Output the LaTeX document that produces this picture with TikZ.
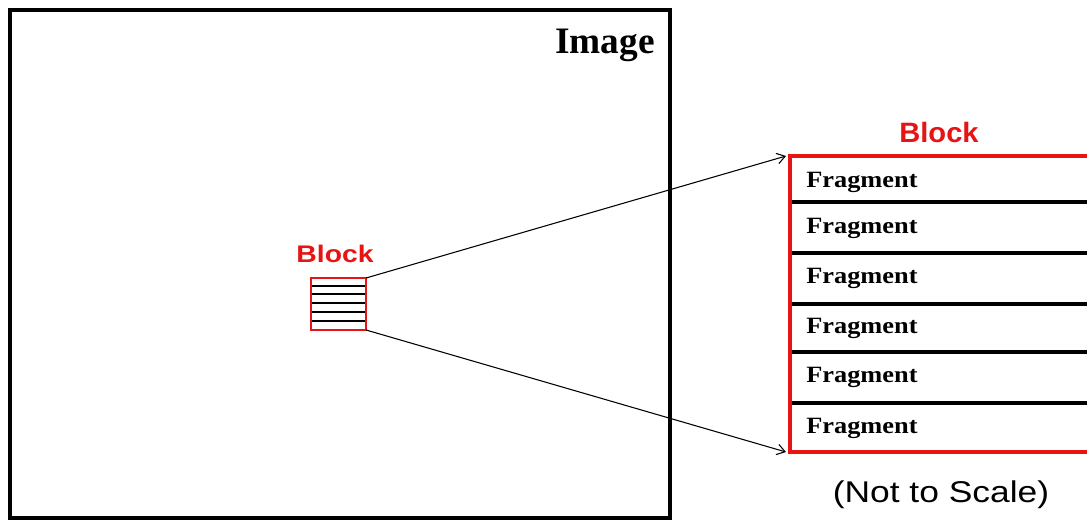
\documentclass[tikz,border=0pt]{standalone}
\usepackage{fontspec}
\usepackage{graphicx}
\setmainfont{Liberation Serif}
\newfontfamily\arialfont{Liberation Sans}
\usetikzlibrary{arrows.meta}
\definecolor{blockred}{RGB}{230,20,20}
\newcommand{\hstretch}[2]{\scalebox{#1}[1]{#2}}
\tikzset{
  px/.style={x=0.75pt,y=-0.75pt},
  frame/.style={draw=black,line width=3pt},
  redbox/.style={draw=blockred,line width=3pt},
  smallred/.style={draw=blockred,line width=1.3pt},
  divider/.style={draw=black,line width=2.6pt},
  thindiv/.style={draw=black,line width=1.4pt},
  fragtext/.style={font=\bfseries\fontsize{17.5}{17.5}\selectfont,anchor=west,inner sep=0pt},
  redlabel/.style={text=blockred,inner sep=0pt,anchor=base},
  conn/.style={draw=black,line width=0.8pt,-{Straight Barb[length=6pt,width=8pt]}},
}
\begin{document}
\begin{tikzpicture}[px]
\useasboundingbox (0,0) rectangle (1087,521);
\clip (0,0) rectangle (1087,521);
% image frame
\draw[frame] (10,10) rectangle (670,518);
\node[font=\bfseries\fontsize{28}{28}\selectfont,anchor=base east,inner sep=0pt] (imglabel) at (655,53) {Image};
% small block
\coordinate (sbnw) at (311,278);
\coordinate (sbse) at (366,330);
\foreach \y in {286,294,303,312,321}{
  \draw[thindiv] (311,\y) -- (366,\y);
}
\draw[smallred] (sbnw) rectangle (sbse);
\node[redlabel,font=\arialfont\bfseries\fontsize{18}{18}\selectfont] (sblabel) at (335,262) {\hstretch{1.18}{Block}};
% big block
\coordinate (bbnw) at (790,156);
\coordinate (bbsw) at (790,452);
\foreach \y in {202,253,304,352,403}{
  \draw[divider] (790,\y) -- (1095,\y);
}
\draw[redbox] (1095,156) -- (bbnw) -- (bbsw) -- (1095,452);
\node[redlabel,font=\arialfont\bfseries\fontsize{21}{21}\selectfont] (bblabel) at (939,142) {\hstretch{1.04}{Block}};
\node[fragtext] (f1) at (806,182) {\hstretch{1.13}{Fragment}};
\node[fragtext] (f2) at (806,228) {\hstretch{1.13}{Fragment}};
\node[fragtext] (f3) at (806,278) {\hstretch{1.13}{Fragment}};
\node[fragtext] (f4) at (806,328) {\hstretch{1.13}{Fragment}};
\node[fragtext] (f5) at (806,377) {\hstretch{1.13}{Fragment}};
\node[fragtext] (f6) at (806,428) {\hstretch{1.13}{Fragment}};
% connectors
\coordinate (sbne) at (366,278);
\draw[conn] (sbne) -- ([xshift=-3]bbnw);
\draw[conn] (sbse) -- ([xshift=-3]bbsw);
\node[font=\arialfont\fontsize{22.5}{22.5}\selectfont,anchor=base,inner sep=0pt] (scale) at (941,502) {\hstretch{1.18}{(Not to Scale)}};
\end{tikzpicture}
\end{document}
